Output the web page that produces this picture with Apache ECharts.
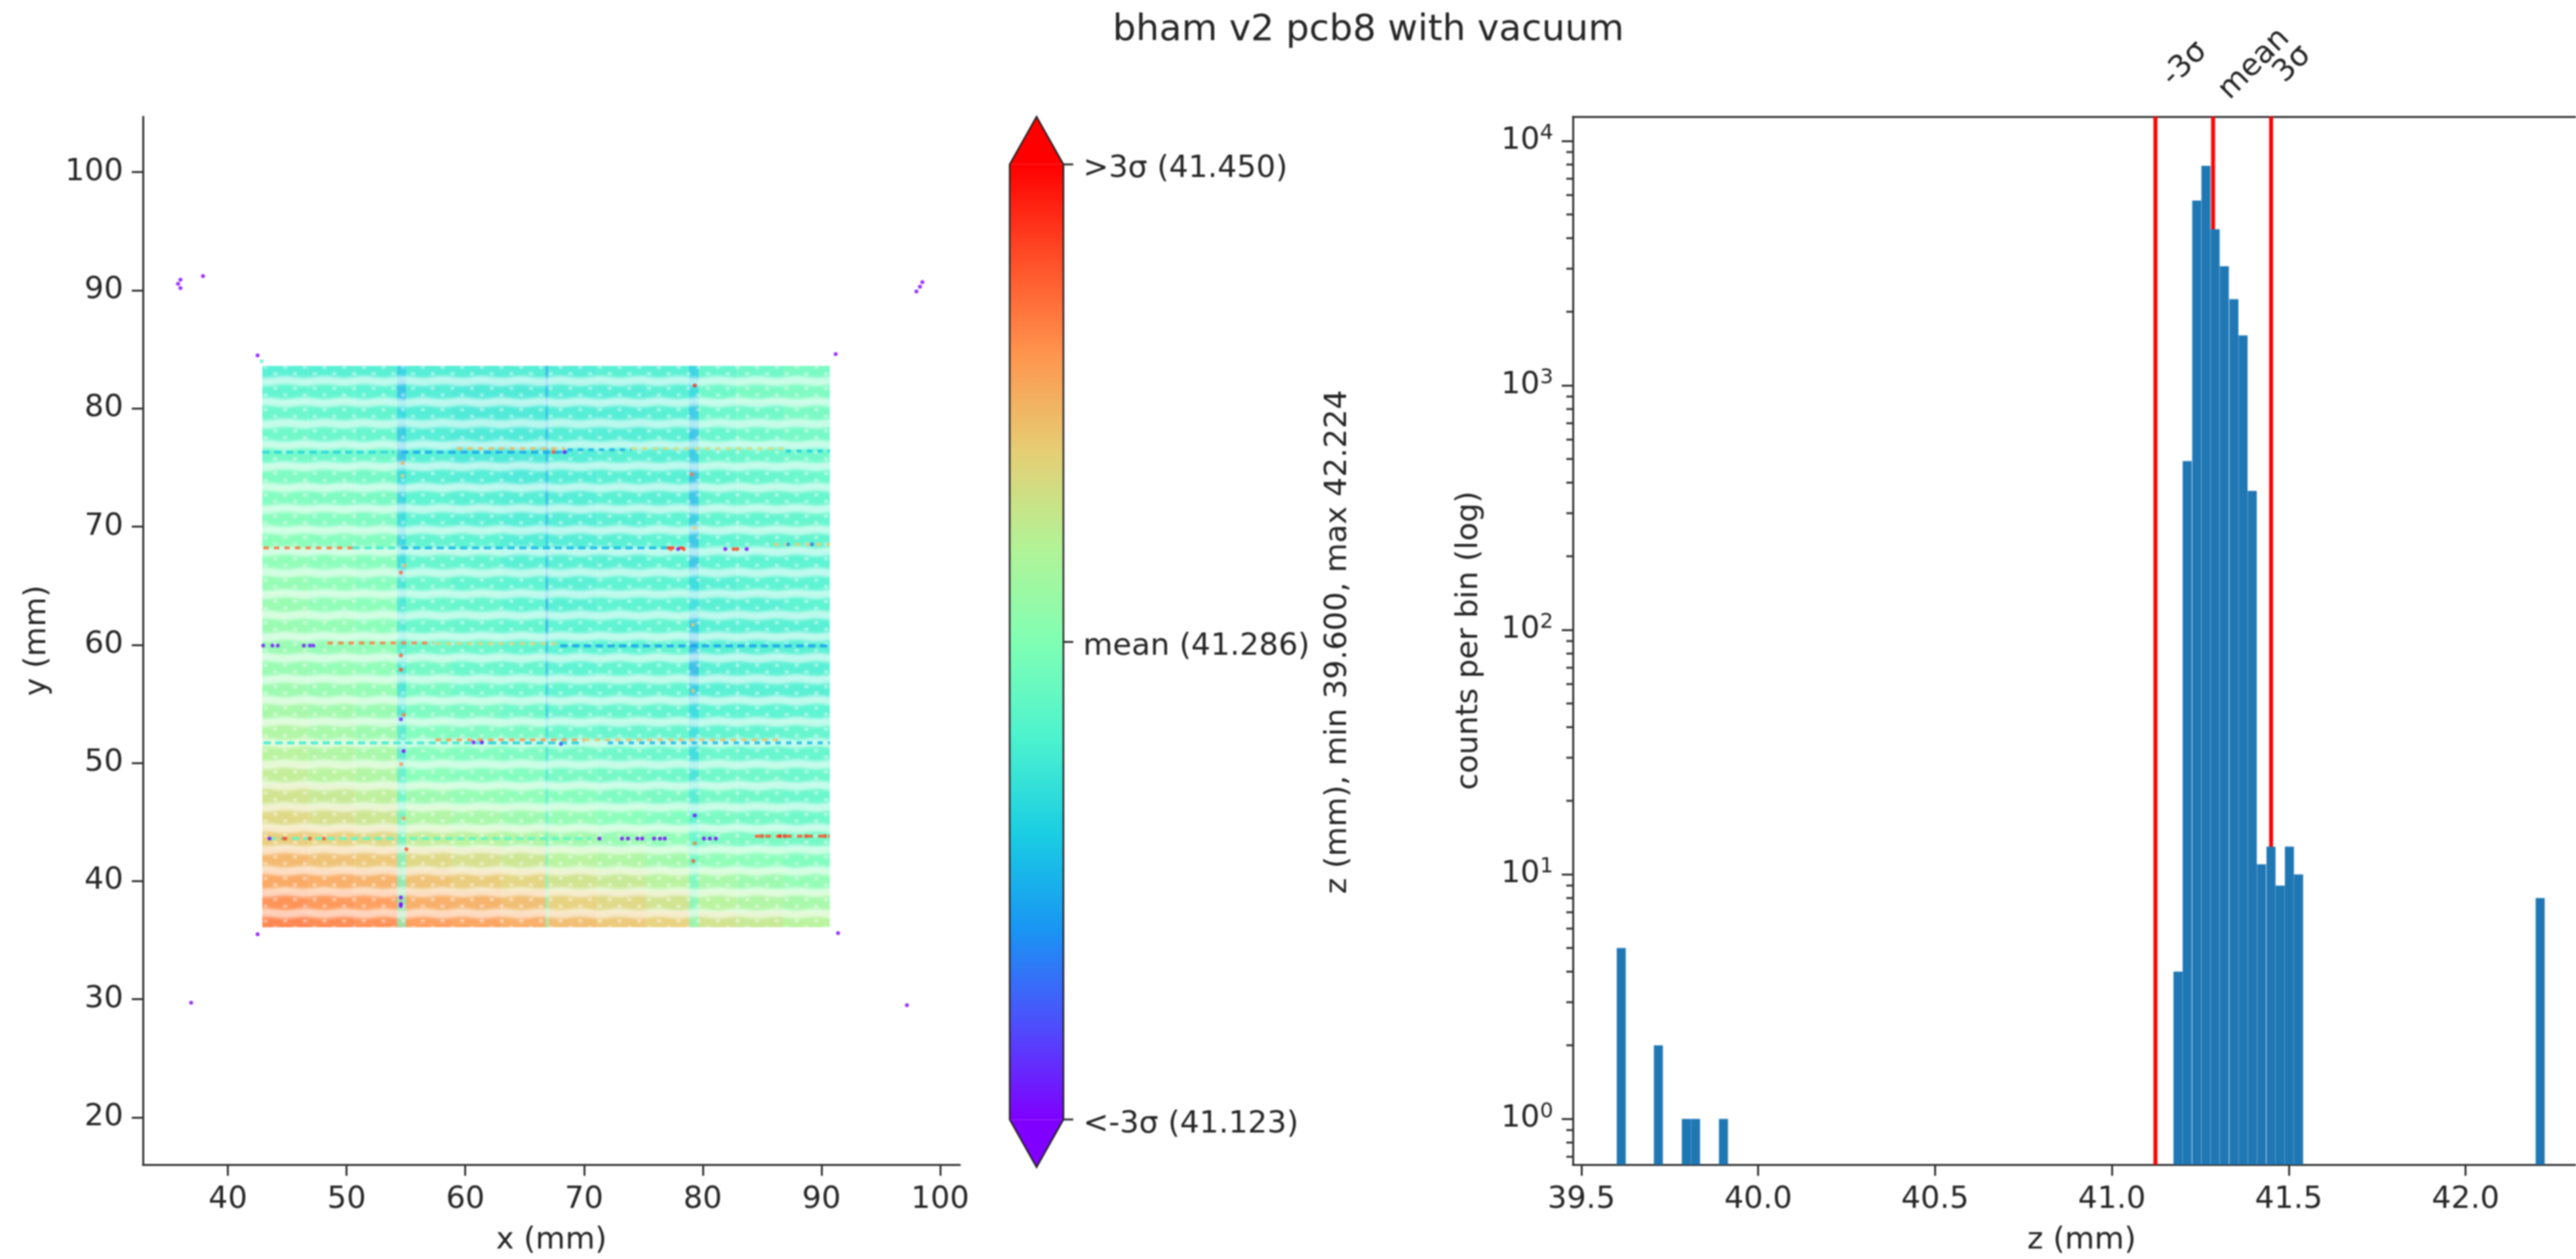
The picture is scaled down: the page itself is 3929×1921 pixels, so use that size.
<!DOCTYPE html>
<html>
<head>
<meta charset="utf-8">
<style>html,body{margin:0;padding:0;background:#fff}#c{width:3929px;height:1921px;filter:blur(1px)}</style>
<script src="https://cdn.jsdelivr.net/npm/echarts@6/dist/echarts.min.js"></script>
</head>
<body>
<div id="c"></div>
<script>
// ---------- text and ticks ----------
const titleText = 'bham v2 pcb8 with vacuum';
const mapXTicks = [40, 50, 60, 70, 80, 90, 100];
const mapYTicks = [20, 30, 40, 50, 60, 70, 80, 90, 100];
const histXTicks = [39.5, 40.0, 40.5, 41.0, 41.5, 42.0];
const histYMajor = [1, 10, 100, 1000, 10000];
const histYMinor = [0.7, 0.8, 0.9, 2, 3, 4, 5, 6, 7, 8, 9, 20, 30, 40, 50, 60, 70, 80, 90, 200, 300, 400, 500, 600, 700, 800, 900, 2000, 3000, 4000, 5000, 6000, 7000, 8000, 9000];
const cbarTicks = [41.123, 41.2865, 41.450];
const cbarLabels = ['<-3σ (41.123)', 'mean (41.286)', '>3σ (41.450)'];
const statValues = [41.123, 41.286, 41.450];
const statLabels = ['-3σ', 'mean', '3σ'];

// ---------- histogram ----------
const binWidth = 0.02624;
const histBinLow = [39.600, 39.705, 39.784, 39.810, 39.889, 41.174, 41.200, 41.227, 41.253, 41.279, 41.305, 41.332, 41.358, 41.384, 41.410, 41.437, 41.463, 41.489, 41.515, 42.198];
const histCounts = [5, 2, 1, 1, 1, 4, 490, 5700, 7900, 4350, 3070, 2250, 1600, 370, 11, 13, 9, 13, 10, 8];

// ---------- colour scale (matplotlib rainbow) ----------
const zLow = 41.123, zHigh = 41.450;
const rainbow = ['#8000ff', '#4d4ffc', '#1996f3', '#1acee3', '#4df3ce', '#80ffb4', '#b3f396', '#e6ce74', '#ff964f', '#ff4f28', '#ff0000'];

const colEdges = [42.9, 46.8, 50.7, 54.6, 58.8, 63.0, 67.0, 71.1, 75.2, 79.3, 82.9, 86.8, 90.7];
const plateTop = 83.6, plateBottom = 36.1;
const rowY = [83.3, 81.5, 79.7, 77.9, 76.1, 74.3, 72.5, 70.7, 68.9, 67.1, 65.3, 63.5, 61.7, 59.9, 58.1, 56.3, 54.5, 52.7, 50.9, 49.1, 47.3, 45.5, 43.7, 41.9, 40.1, 38.3, 36.5];
const rowColorPos = [
  [.39,.39,.39,.38,.38,.38,.38,.39,.39,.42,.44,.46],
  [.41,.41,.40,.38,.37,.37,.38,.38,.39,.44,.46,.47],
  [.43,.42,.41,.38,.37,.37,.38,.38,.39,.43,.44,.46],
  [.44,.43,.42,.38,.37,.37,.38,.38,.39,.42,.44,.45],
  [.45,.44,.44,.39,.37,.37,.38,.39,.39,.42,.43,.44],
  [.47,.46,.45,.39,.38,.37,.38,.39,.39,.41,.42,.43],
  [.48,.47,.46,.40,.39,.38,.38,.39,.39,.41,.42,.42],
  [.49,.48,.47,.40,.39,.38,.38,.39,.40,.41,.41,.42],
  [.50,.49,.48,.41,.40,.38,.38,.39,.40,.40,.41,.41],
  [.51,.50,.49,.42,.41,.39,.39,.39,.40,.40,.40,.40],
  [.52,.51,.49,.43,.41,.40,.39,.40,.40,.39,.40,.40],
  [.53,.51,.50,.43,.42,.40,.39,.40,.40,.39,.39,.40],
  [.53,.52,.50,.43,.42,.41,.40,.40,.41,.39,.39,.39],
  [.53,.52,.51,.44,.43,.41,.40,.40,.41,.39,.39,.39],
  [.53,.52,.51,.45,.43,.42,.40,.41,.41,.39,.39,.39],
  [.54,.53,.52,.46,.44,.43,.41,.41,.41,.39,.39,.39],
  [.56,.55,.53,.47,.46,.44,.42,.42,.41,.40,.40,.40],
  [.58,.56,.54,.48,.47,.46,.43,.42,.42,.41,.41,.42],
  [.60,.58,.56,.49,.48,.47,.45,.44,.43,.43,.42,.42],
  [.62,.60,.58,.50,.49,.48,.46,.45,.44,.44,.44,.43],
  [.65,.63,.61,.54,.52,.51,.49,.47,.46,.45,.44,.43],
  [.68,.66,.64,.58,.56,.54,.52,.50,.48,.46,.45,.44],
  [.71,.70,.68,.62,.60,.58,.55,.53,.51,.47,.46,.45],
  [.75,.73,.72,.68,.66,.64,.60,.58,.55,.51,.50,.48],
  [.78,.77,.76,.73,.71,.69,.65,.63,.60,.56,.54,.52],
  [.82,.81,.80,.77,.76,.74,.70,.68,.65,.60,.58,.56],
  [.84,.83,.82,.80,.79,.77,.74,.72,.70,.65,.63,.60]
];
// board seams: x range of each seam and the colour position per row
const seamEdges = [[54.25, 55.0], [66.75, 67.0], [78.85, 79.65]];
const seamColorPos = [
  [.28,.24,.30,.26,.24,.30,.28,.30,.28,.30,.33,.34,.36,.36,.34,.33,.34,.36,.36,.38,.40,.42,.42,.44,.44,.45,.46],
  [.22,.24,.26,.24,.24,.26,.24,.26,.28,.26,.24,.22,.22,.26,.26,.28,.28,.32,.34,.36,.38,.40,.42,.44,.46,.48,.50],
  [.28,.30,.26,.24,.26,.24,.24,.26,.24,.24,.30,.32,.26,.22,.22,.26,.30,.32,.30,.33,.36,.38,.40,.42,.44,.46,.48]
];
// horizontal scan lines that sit off the surface: [y, x from, x to, colour position]
const scanLines = [
  [76.3, 42.9, 54.0, .33], [76.3, 54.6, 68.6, .24],
  [68.2, 50.5, 54.5, .38], [68.2, 54.6, 77.0, .27], [68.2, 77.0, 78.4, .93],
  [59.9, 68.0, 90.7, .22],
  [51.7, 43.0, 62.0, .38], [51.7, 62.0, 70.0, .32],
  [43.6, 43.4, 70.6, .44]
];
const paleScanLines = [
  [76.6, 59.3, 68.4, .74], [76.5, 68.6, 74.0, .25], [76.6, 74.0, 87.0, .66], [76.4, 87.0, 90.7, .30],
  [60.15, 48.4, 57.3, .84], [60.1, 57.5, 67.8, .68], [51.95, 57.5, 70.0, .80], [51.95, 70.0, 86.5, .72], [51.7, 72.0, 90.7, .26],
  [68.2, 43.0, 50.5, .85], [68.5, 86.0, 90.7, .70], [43.8, 84.4, 90.7, .90]
];
// isolated points: [x, y, colour position]
const spots = [
  [36.0,90.9,0],[36.0,90.2,0],[35.8,90.55,0],[37.9,91.2,0],[98.3,90.3,0],[98.5,90.7,0],[98.0,89.9,0],
  [36.9,29.7,0],[97.2,29.5,0],[42.5,35.5,0],[91.4,35.6,0],[42.5,84.5,0],[42.85,84.0,.42],[91.2,84.6,0],
  [79.33,81.94,.95],[67.42,76.31,.9],[68.36,76.31,0],[79.08,74.43,.85],[54.72,75.38,.75],[54.72,74.3,.7],
  [77.3,68.1,.9],[77.92,68.1,.02],[78.4,68.1,.92],[81.9,68.1,0],[82.6,68.1,.92],[82.9,68.1,.92],[83.7,68.1,0],
  [79.33,69.9,.7],[87.2,68.5,.2],[89.2,68.5,.15],
  [54.88,66.7,.75],[54.57,66.1,.88],[42.97,59.93,.03],[43.75,59.93,.03],[44.2,59.93,.03],[46.4,59.93,.03],[46.9,59.93,.03],[47.2,59.93,.03],
  [54.57,59.1,.88],[54.57,57.9,.9],[79.17,61.7,.72],[79.17,56.1,.72],[54.57,53.7,.05],[54.8,54.07,.85],
  [60.7,51.74,0],[61.4,51.74,0],[68.05,51.6,.1],
  [54.8,51.0,0],[54.6,49.9,.8],[55.04,42.7,.9],[79.33,43.2,.85],[79.2,41.7,.9],[54.8,45.3,.8],
  [54.57,38.6,0],[54.57,38.07,0],[54.57,37.9,0],[79.33,45.55,0],
  [43.5,43.6,0],[71.3,43.6,0],[73.2,43.6,0],[73.7,43.6,0],[74.5,43.6,0],[74.9,43.6,0],[75.9,43.6,0],[76.4,43.6,0],[76.8,43.6,0],
  [80.1,43.6,0],[80.6,43.6,0],[81.1,43.6,0],[44.7,43.6,.9],[44.85,43.6,.9],[46.9,43.6,.9],[48.1,43.6,.9],
  [85.0,43.8,.92],[86.5,43.8,.95],[86.9,43.8,.95],[88.7,43.8,.92],[90.3,43.8,.92]
];

// ---------- frame (pixel layout) ----------
const font = '"DejaVu Sans"', ink = '#262626', tickPx = 46.5;
const axisLine = {show: true, lineStyle: {color: '#333', width: 3}};
const tick = (len, vals) => ({show: true, length: len, lineStyle: {color: '#333', width: 3}, customValues: vals});
const label = (vals, margin, extra) => Object.assign({show: true, fontFamily: font, fontSize: tickPx, color: ink, margin: margin, customValues: vals}, extra || {});
const nameText = {fontFamily: font, fontSize: tickPx, color: ink};

const toZ = p => zLow + p * (zHigh - zLow);
const histXMin = 39.476, histXMax = 42.312;
const histYMin = 0.65, histYMax = 12560;
const statLabelDx = [45, 63, 33];   // label centre to the right of its line, px
const statLabelY = 98;              // label centre height, px

// data for the custom rectangles: [x0, x1, y0, y1, z]
const cells = [];
rowY.forEach((y, r) => rowColorPos[r].forEach((p, c) => {
  cells.push([colEdges[c], colEdges[c + 1], Math.max(y - 0.9, plateBottom), Math.min(y + 0.9, plateTop), toZ(p)]);
}));
const seamCells = [];
seamEdges.forEach((e, s) => rowY.forEach((y, r) => {
  seamCells.push([e[0], e[1], Math.max(y - 0.9, plateBottom), Math.min(y + 0.9, plateTop), toZ(seamColorPos[s][r])]);
}));
const lineRow = l => [l[1], l[2], l[0], l[0], toZ(l[3])];

// texture of the scan: wavy pale gaps between bands and a staggered lattice of holes
function makeTile() {
  const W = 60, H = 65, t = document.createElement('canvas');
  t.width = W; t.height = H;
  const g = t.getContext('2d');
  g.fillStyle = 'rgba(255,255,255,0.1)';
  g.fillRect(0, 0, W, H);
  g.filter = 'blur(2.2px)';
  [[12.5, 0], [45, 30], [-20, 30], [77.5, 0]].forEach(([cy, ph]) => {
    const gy = cy + 16.25, wave = x => 1.2 * Math.sin((x + ph) * Math.PI / 30);
    g.fillStyle = 'rgba(255,255,255,0.6)';
    g.beginPath();
    for (let x = -10; x <= W + 10; x += 2) g.lineTo(x, gy - 6.5 + wave(x));
    for (let x = W + 10; x >= -10; x -= 2) g.lineTo(x, gy + 6.5 + wave(x));
    g.closePath();
    g.fill();
  });
  g.filter = 'blur(1px)';
  g.fillStyle = 'rgba(255,255,255,0.5)';
  [[12.5, 0], [45, 15], [-20, 15], [77.5, 0]].forEach(([cy, sh]) => {
    for (let x = -60; x <= 120; x += 30) {
      g.beginPath(); g.ellipse(x + sh, cy - 5, 3.2, 2.6, 0, 0, 7); g.fill();
      g.beginPath(); g.ellipse(x + sh + 15, cy + 5, 3.2, 2.6, 0, 0, 7); g.fill();
    }
  });
  return t;
}
const tile = makeTile();

const rectItem = opacity => (params, api) => {
  const a = api.coord([api.value(0), api.value(3)]);
  const b = api.coord([api.value(1), api.value(2)]);
  return {type: 'rect', shape: {x: a[0], y: a[1], width: b[0] - a[0], height: b[1] - a[1]},
    style: {fill: api.visual('color'), opacity: opacity, stroke: null}};
};
const lineItem = (width, dash, opacity) => (params, api) => {
  const a = api.coord([api.value(0), api.value(2)]);
  const b = api.coord([api.value(1), api.value(3)]);
  return {type: 'line', shape: {x1: a[0], y1: a[1], x2: b[0], y2: b[1]},
    style: {stroke: api.visual('color'), lineWidth: width, lineDash: dash, opacity: opacity, fill: null}};
};
const customXY = {coordinateSystem: 'cartesian2d', xAxisIndex: 0, yAxisIndex: 0, silent: true, clip: false,
  encode: {x: [0, 1], y: [2, 3]}, animation: false};
// short tick marks placed through the axis scales: each mark sits at [x edge, value]
const tickSeries = (name, xIdx, yIdx, edge, vals, dx) => ({
  type: 'custom', name: name, coordinateSystem: 'cartesian2d', xAxisIndex: xIdx, yAxisIndex: yIdx, z: 6, silent: true, clip: false, animation: false,
  data: vals.map(v => [edge, v]), encode: {x: 0, y: 1},
  renderItem: (params, api) => {
    const p = api.coord([api.value(0), api.value(1)]);
    return {type: 'line', shape: {x1: p[0], y1: p[1], x2: p[0] + dx, y2: p[1]}, style: {stroke: '#333', lineWidth: 3, fill: null}};
  }
});

const series = [
  Object.assign({type: 'custom', name: 'surface', data: cells, renderItem: rectItem(1), z: 2}, customXY),
  Object.assign({type: 'custom', name: 'texture', data: [[colEdges[0], colEdges[12], plateBottom, plateTop, zLow]],
    z: 4,
    renderItem: (params, api) => {
      const a = api.coord([api.value(0), api.value(3)]);
      const b = api.coord([api.value(1), api.value(2)]);
      return {type: 'rect', shape: {x: a[0], y: a[1], width: b[0] - a[0], height: b[1] - a[1]},
        style: {fill: {image: tile, repeat: 'repeat'}, stroke: null}};
    }}, customXY),
  Object.assign({type: 'custom', name: 'seams', data: seamCells, renderItem: rectItem(0.7), z: 3}, customXY),
  Object.assign({type: 'custom', name: 'pale scan lines', data: paleScanLines.map(lineRow), renderItem: lineItem(4.5, [8, 8], 0.85), z: 5}, customXY),
  Object.assign({type: 'custom', name: 'scan lines', data: scanLines.map(lineRow), renderItem: lineItem(4.5, [11, 7], 0.9), z: 6}, customXY),
  {type: 'scatter', name: 'spots', xAxisIndex: 0, yAxisIndex: 0, data: spots.map(s => [s[0], s[1], toZ(s[2])]),
    symbol: 'circle', symbolSize: 6, z: 7, silent: true, animation: false},
  // colour bar
  {type: 'custom', name: 'colour bar', xAxisIndex: 1, yAxisIndex: 1, coordinateSystem: 'cartesian2d', silent: true, clip: false,
    data: [[0, 1, zLow, zHigh]], encode: {x: [0, 1], y: [2, 3]}, z: 2, animation: false,
    renderItem: (params, api) => {
      const xl = api.value(0), xr = api.value(1), lo = api.value(2), hi = api.value(3), ext = 0.05 * (hi - lo), xm = (xl + xr) / 2;
      const pts = arr => arr.map(p => api.coord(p));
      const stroke = {stroke: '#222', lineWidth: 2.5, lineJoin: 'miter'};
      const stops = rainbow.map((c, i) => ({offset: i / (rainbow.length - 1), color: c}));
      return {type: 'group', children: [
        {type: 'polygon', shape: {points: pts([[xl, lo], [xr, lo], [xr, hi], [xl, hi]])},
          style: {fill: {type: 'linear', x: 0, y: 1, x2: 0, y2: 0, colorStops: stops}, stroke: null}},
        {type: 'polygon', shape: {points: pts([[xl, hi], [xr, hi], [xm, hi + ext]])}, style: {fill: rainbow[10], stroke: null}},
        {type: 'polygon', shape: {points: pts([[xl, lo], [xr, lo], [xm, lo - ext]])}, style: {fill: rainbow[0], stroke: null}},
        {type: 'polygon', shape: {points: pts([[xl, hi], [xm, hi + ext], [xr, hi], [xr, lo], [xm, lo - ext], [xl, lo]])},
          style: Object.assign({fill: null}, stroke)}
      ]};
    }},
  // histogram
  {type: 'custom', name: 'counts', coordinateSystem: 'cartesian2d', xAxisIndex: 2, yAxisIndex: 2, z: 3, silent: true, animation: false,
    data: histBinLow.map((b, i) => [b, b + binWidth, histCounts[i]]), encode: {x: [0, 1], y: 2},
    renderItem: (params, api) => {
      const a = api.coord([api.value(0), api.value(2)]);
      const b = api.coord([api.value(1), histYMin]);
      return {type: 'rect', shape: {x: a[0], y: a[1], width: b[0] - a[0] - 0.4, height: b[1] - a[1]}, style: {fill: '#1f77b4', stroke: null}};
    }},
  // names of the red lines, above the frame
  {type: 'custom', name: 'stat labels', coordinateSystem: 'cartesian2d', xAxisIndex: 2, yAxisIndex: 2, z: 5, silent: true, clip: false, animation: false,
    data: statValues.map((v, i) => [v, histYMax, i]), encode: {x: 0, y: 1},
    renderItem: (params, api) => {
      const i = api.value(2), p = api.coord([api.value(0), api.value(1)]);
      return {type: 'text', x: p[0] + statLabelDx[i], y: statLabelY, rotation: Math.PI / 4,
        style: {text: statLabels[i], fontFamily: font, fontSize: tickPx, fill: ink, align: 'center', verticalAlign: 'middle'}};
    }},
  tickSeries('colour bar ticks', 1, 1, 1, cbarTicks, 15),
  tickSeries('minor ticks', 2, 2, histXMin, histYMinor, -10)
].concat(statValues.map(v => ({
  type: 'line', name: 'stat', xAxisIndex: 2, yAxisIndex: 2, z: 2, showSymbol: false, silent: true, animation: false,
  data: [[v, histYMin], [v, histYMax]], lineStyle: {color: '#ff0000', width: 6}
})));

const option = {
  backgroundColor: '#fff',
  animation: false,
  title: {text: titleText, left: 2082, top: 13, textAlign: 'center',
    textStyle: {fontFamily: font, fontSize: 56, fontWeight: 'normal', color: ink}},
  visualMap: [
    {show: false, type: 'continuous', min: zLow, max: zHigh, dimension: 4, seriesIndex: [0, 2, 3, 4], inRange: {color: rainbow}, calculable: false},
    {show: false, type: 'continuous', min: zLow, max: zHigh, dimension: 2, seriesIndex: [5], inRange: {color: rainbow}}
  ],
  grid: [
    {left: 218, top: 178, width: 1246, height: 1603},
    {left: 1540, top: 178, width: 82, height: 1603},
    {left: 2399, top: 178, width: 1530, height: 1603}
  ],
  xAxis: [
    {type: 'value', gridIndex: 0, min: 32.84, max: 101.66, splitLine: {show: false}, axisLine: axisLine,
     axisTick: tick(17, mapXTicks), axisLabel: label(mapXTicks, 30),
     name: 'x (mm)', nameLocation: 'middle', nameGap: 92, nameTextStyle: nameText},
    {type: 'value', gridIndex: 1, min: 0, max: 1, show: false},
    {type: 'value', gridIndex: 2, min: histXMin, max: histXMax, splitLine: {show: false}, axisLine: axisLine,
     axisTick: tick(17, histXTicks), axisLabel: label(histXTicks, 30, {formatter: v => v.toFixed(1)}),
     name: 'z (mm)', nameLocation: 'middle', nameGap: 92, nameTextStyle: Object.assign({padding: [0, 0, 0, 22]}, nameText)},
    {type: 'value', gridIndex: 2, position: 'top', min: histXMin, max: histXMax, splitLine: {show: false}, axisLine: axisLine,
     axisTick: {show: false}, axisLabel: {show: false}}
  ],
  yAxis: [
    {type: 'value', gridIndex: 0, min: 16.0, max: 104.7, splitLine: {show: false}, axisLine: axisLine,
     axisTick: tick(17, mapYTicks), axisLabel: label(mapYTicks, 30),
     name: 'y (mm)', nameLocation: 'middle', nameGap: 138, nameTextStyle: nameText},
    {type: 'value', gridIndex: 1, position: 'right', min: zLow - 0.05 * (zHigh - zLow), max: zHigh + 0.05 * (zHigh - zLow),
     splitLine: {show: false}, axisLine: {show: false}, axisTick: {show: false},
     axisLabel: label(cbarTicks, 30, {
       formatter: v => '{t|' + cbarLabels[cbarTicks.findIndex(s => Math.abs(s - v) < 1e-6)] + '}',
       rich: {t: {fontFamily: font, fontSize: tickPx, color: ink, padding: [15, 0, 0, 0]}}
     }),
     name: 'z (mm), min 39.600, max 42.224', nameLocation: 'middle', nameGap: 395, nameRotate: 90, nameTextStyle: nameText},
    {type: 'log', gridIndex: 2, min: histYMin, max: histYMax, logBase: 10, splitLine: {show: false}, axisLine: axisLine,
     axisTick: tick(17, histYMajor),
     axisLabel: label(histYMajor, 30, {
       formatter: v => '{b|10}{e|' + Math.round(Math.log10(v)) + '}',
       rich: {b: {fontFamily: font, fontSize: tickPx, color: ink}, e: {fontFamily: font, fontSize: 32, color: ink, verticalAlign: 'bottom', padding: [0, 0, 22, 0]}}
     }),
     name: 'counts per bin (log)', nameLocation: 'middle', nameGap: 135, nameTextStyle: nameText}
  ],
  series: series
};
const chart = echarts.init(document.getElementById('c'), null, {renderer: 'canvas', width: 3929, height: 1921});
chart.setOption(option);
</script>
</body>
</html>
